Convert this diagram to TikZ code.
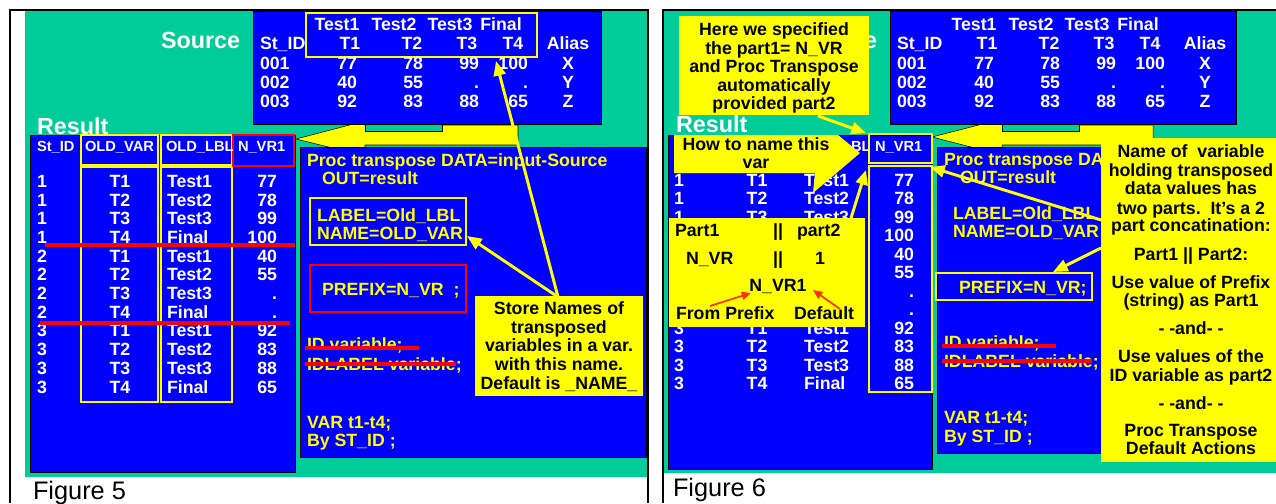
\documentclass[tikz,border=0pt]{standalone}
\usepackage{fontspec}
\setmainfont{Liberation Sans}
\usetikzlibrary{arrows.meta}
\definecolor{tl}{RGB}{0,204,153}
\definecolor{bl}{RGB}{0,0,255}
\definecolor{yl}{RGB}{255,255,0}
\definecolor{rd}{RGB}{255,0,0}
\definecolor{ra}{RGB}{255,51,0}
\newcommand\fsn{\fontsize{13.3}{15}\selectfont\bfseries}
\newcommand\fsh{\fontsize{11}{13}\selectfont\bfseries}
\newcommand\fsb{\fontsize{17.5}{20}\selectfont\bfseries}
\newcommand\fsf{\fontsize{19}{22}\selectfont}
\newcommand\srcrows[1]{%
  \node[wt] (#1-h1) at (337,24) {Test1};
  \node[wt] (#1-h2) at (394,24) {Test2};
  \node[wt] (#1-h3) at (450,24) {Test3};
  \node[wt] (#1-h4) at (501,24) {Final};
  \node[wt,anchor=west] (#1-sidh) at (260,43) {St\_ID};
  \node[wt] (#1-t1) at (350,43) {T1};
  \node[wt] (#1-t2) at (412,43) {T2};
  \node[wt] (#1-t3) at (467,43) {T3};
  \node[wt] (#1-t4) at (513,43) {T4};
  \node[wt] (#1-alias) at (568,43) {Alias};
  \foreach \sid/\va/\vb/\vc/\vd/\al [count=\i from 0] in {001/77/78/99/100/X,002/40/55/././Y,003/92/83/88/65/Z}{%
    \pgfmathsetmacro\yy{63+19*\i}
    \node[wt,anchor=west] (#1-sid\i) at (260,\yy) {\sid};
    \node[wt,anchor=east] (#1-sa\i) at (357,\yy) {\va};
    \node[wt,anchor=east] (#1-sb\i) at (423,\yy) {\vb};
    \node[wt,anchor=east] (#1-sc\i) at (479,\yy) {\vc};
    \node[wt,anchor=east] (#1-sd\i) at (528,\yy) {\vd};
    \node[wt] (#1-sal\i) at (568,\yy) {\al};
  }}
% #1 prefix, #2 first row y, #3 row step, #4 first hidden row, #5 last hidden row
\newcommand\resrows[5]{%
  \foreach \id/\tv/\lb/\v [count=\i from 0] in {1/T1/Test1/77,1/T2/Test2/78,1/T3/Test3/99,1/T4/Final/100,2/T1/Test1/40,2/T2/Test2/55,2/T3/Test3/.,2/T4/Final/.,3/T1/Test1/92,3/T2/Test2/83,3/T3/Test3/88,3/T4/Final/65}{%
    \pgfmathsetmacro\yy{#2+#3*\i}
    \ifnum\i<#4\relax
      \node[wt,anchor=west] (#1-rid\i) at (37,\yy) {\id};
      \node[wt] (#1-rvar\i) at (120,\yy) {\tv};
      \node[wt,anchor=west] (#1-rlbl\i) at (167,\yy) {\lb};
    \else\ifnum\i>#5\relax
      \node[wt,anchor=west] (#1-rid\i) at (37,\yy) {\id};
      \node[wt] (#1-rvar\i) at (120,\yy) {\tv};
      \node[wt,anchor=west] (#1-rlbl\i) at (167,\yy) {\lb};
    \fi\fi
    \node[wt,anchor=east] (#1-rval\i) at (277,\yy) {\v};
  }}
\begin{document}
\begin{tikzpicture}[x=0.75pt,y=-0.75pt,
  every node/.style={inner sep=0pt,outer sep=0pt},
  wt/.style={text=white,font=\fsn,text height=9.5pt,text depth=0pt},
  wh/.style={text=white,font=\fsh,text height=7.9pt,text depth=0pt},
  yt/.style={text=yl,font=\fsn,text height=9.5pt,text depth=0pt},
  kt/.style={text=black,font=\fsn,text height=9.5pt,text depth=0pt},
  big/.style={text=white,font=\fsb,text height=12.5pt,text depth=0pt},
  figl/.style={text=black,font=\fsf,text height=13.6pt,text depth=0pt},
  bluebox/.style={fill=bl,draw=black,line width=0.6pt},
  tealbox/.style={fill=tl,draw=black,line width=0.6pt},
  ybox/.style={draw=yl,line width=2.2pt},
  rbox/.style={draw=rd,line width=2.2pt},
  strike/.style={draw=rd,line width=2.6pt},
  yarrow/.style={draw=yl,line width=2.2pt,-{Triangle[length=11pt,width=9pt]}},
  rarrow/.style={draw=ra,line width=1.3pt,-{Triangle[length=7pt,width=6pt]}},
  bigarrow/.style={fill=yl,draw=black,line width=0.4pt},
  frame/.style={draw=black,line width=1.5pt}]
\useasboundingbox (0,0) rectangle (1276,503);
\fill[white] (0,0) rectangle (1276,503);

%%%%%%%%%%%%%%%% FIGURE 5
\fill[tl] (25,11) rectangle (647,477);
\draw[frame] (10,503) -- (10,10) -- (648,10) -- (648,503);
\node[big,anchor=west] (a-source) at (161,40) {Source};
\filldraw[bigarrow] (296,139) -- (365,121) -- (365,125) -- (518,125) -- (518,145) -- (365,145) -- (365,156) -- cycle;
\draw[bluebox] (253,11) rectangle (601,124);
\draw[tealbox] (365,124) rectangle (442,131);
\draw[ybox] (306,13) rectangle (537,57);
\srcrows{a}
% result table
\node[big,anchor=west] (a-result) at (37,126) {Result};
\draw[bluebox] (30,135) rectangle (295,472);
\draw[ybox] (81,135) rectangle (158,165);
\draw[ybox] (161,135) rectangle (232,165);
\draw[ybox] (81,167) rectangle (158,402);
\draw[ybox] (161,167) rectangle (232,402);
\draw[rbox] (233,135) rectangle (294,166);
\node[wh,anchor=west] (a-hid) at (37,146) {St\_ID};
\node[wh,anchor=west] (a-hvar) at (85,146) {OLD\_VAR};
\node[wh,anchor=west] (a-hlbl) at (166,146) {OLD\_LBL};
\node[wh,anchor=west] (a-hnvr) at (238,146) {N\_VR1};
\resrows{a}{181}{18.7}{20}{30}
\draw[strike] (45,245) -- (295,245);
\draw[strike] (40,323) -- (290,323);
% code box
\draw[bluebox] (300,147) rectangle (646,457);
\node[yt,anchor=west] (a-c1) at (307,160) {Proc transpose DATA=input-Source};
\node[yt,anchor=west] (a-c2) at (322,178) {OUT=result};
\draw[ybox] (310,198) rectangle (466,245);
\node[yt,anchor=west] (a-c3) at (317,215) {LABEL=Old\_LBL};
\node[yt,anchor=west] (a-c4) at (317,233) {NAME=OLD\_VAR};
\draw[rbox] (310,265) rectangle (466,312);
\node[yt,anchor=west] (a-c5) at (322,289) {PREFIX=N\_VR\ \ ;};
\node[yt,anchor=west] (a-c6) at (307,344) {ID variable;};
\node[yt,anchor=west] (a-c7) at (307,364) {IDLABEL variable;};
\draw[strike] (305,348) -- (419,348);
\draw[strike] (305,364) -- (456,364);
\node[yt,anchor=west] (a-c8) at (307,422) {VAR t1-t4;};
\node[yt,anchor=west] (a-c9) at (307,440) {By ST\_ID ;};
% note
\fill[yl] (475,296) rectangle (643,396);
\node[kt] (a-n1) at (559,308) {Store Names of};
\node[kt] (a-n2) at (559,327) {transposed};
\node[kt] (a-n3) at (559,345) {variables in a var.};
\node[kt] (a-n4) at (559,364) {with this name.};
\node[kt] (a-n5) at (559,383) {Default is \_NAME\_};
\coordinate (a-note) at (558,297);
\coordinate (a-namebox) at (467,236);
\coordinate (a-t4tip) at (496,61);
\draw[yarrow] (a-note) -- (a-namebox);
\draw[yarrow] (a-note) -- (a-t4tip);
\node[figl,anchor=west] (a-fig) at (33,490) {Figure 5};

%%%%%%%%%%%%%%%% FIGURE 6
\begin{scope}[shift={(637,0)}]
\fill[tl] (27,11) rectangle (640,473);
\draw[frame] (26,503) -- (26,10) -- (640,10);
\node[big,anchor=west] (b-source) at (161,40) {Source};
\filldraw[bigarrow] (295,137) -- (365,119) -- (365,125) -- (516,125) -- (516,145) -- (365,145) -- (365,155) -- cycle;
\draw[bluebox] (253,11) rectangle (599,124);
\draw[tealbox] (365,124) rectangle (442,131);
\srcrows{b}
% result
\node[big,anchor=west] (b-result) at (39,124) {Result};
\draw[bluebox] (31,135) rectangle (295,469);
\node[wh,anchor=west] (b-hlbl) at (166,146) {OLD\_LBL};
\node[wh,anchor=west] (b-hnvr) at (238,146) {N\_VR1};
\resrows{b}{180}{18.5}{3}{7}
\draw[ybox] (232,134) rectangle (295,163);
\draw[ybox] (232,166) rectangle (295,392);
% code
\draw[bluebox] (300,147) rectangle (600,453);
\node[yt,anchor=west] (b-c1) at (307,159) {Proc transpose DA};
\node[yt,anchor=west] (b-c2) at (323,177) {OUT=result};
\node[yt,anchor=west] (b-c3) at (316,213) {LABEL=Old\_LBL};
\node[yt,anchor=west] (b-c4) at (316,231) {NAME=OLD\_VAR};
\draw[ybox] (299,273) rectangle (455,300);
\node[yt,anchor=west] (b-c5) at (322,287) {PREFIX=N\_VR;};
\node[yt,anchor=west] (b-c6) at (307,342) {ID variable;};
\node[yt,anchor=west] (b-c7) at (307,361) {IDLABEL variable;};
\draw[strike] (305,346) -- (419,346);
\draw[strike] (305,361) -- (455,361);
\node[yt,anchor=west] (b-c8) at (307,417) {VAR t1-t4;};
\node[yt,anchor=west] (b-c9) at (307,436) {By ST\_ID ;};
% big note
\fill[yl] (464,138) rectangle (645,462);
\node[kt] (b-n1) at (554,151) {Name of\ \ variable};
\node[kt] (b-n2) at (554,170) {holding transposed};
\node[kt] (b-n3) at (554,188) {data values has};
\node[kt] (b-n4) at (554,208) {two parts.\ \ It’s a 2};
\node[kt] (b-n5) at (554,225) {part concatination:};
\node[kt] (b-n6) at (554,254) {Part1 || Part2:};
\node[kt] (b-n7) at (554,282) {Use value of Prefix};
\node[kt] (b-n8) at (554,300) {(string) as Part1};
\node[kt] (b-n9) at (554,328) {- -and- -};
\node[kt] (b-n10) at (554,356) {Use values of the};
\node[kt] (b-n11) at (554,375) {ID variable as part2};
\node[kt] (b-n12) at (554,403) {- -and- -};
\node[kt] (b-n13) at (554,430) {Proc Transpose};
\node[kt] (b-n14) at (554,448) {Default Actions};
% callout: here we specified
\fill[yl] (42,16) rectangle (232,115);
\node[kt] (b-h1) at (137,29) {Here we specified};
\node[kt] (b-h2) at (137,48) {the part1= N\_VR};
\node[kt] (b-h3) at (137,66) {and Proc Transpose};
\node[kt] (b-h4) at (137,85) {automatically};
\node[kt] (b-h5) at (137,103) {provided part2};
% callout: how to name
\fill[yl] (37,135) -- (201,135) -- (223,153) -- (176,193) -- (178,173) -- (37,173) -- cycle;
\node[kt] (b-w1) at (119,144) {How to name this};
\node[kt] (b-w2) at (119,162) {var};
% part1 box
\fill[yl] (32,218) rectangle (228,327);
\node[kt,anchor=west] (b-p1) at (38,230) {Part1};
\node[kt] (b-p2) at (141,230) {||};
\node[kt,anchor=west] (b-p3) at (160,230) {part2};
\node[kt,anchor=west] (b-p4) at (49,258) {N\_VR};
\node[kt] (b-p5) at (141,258) {||};
\node[kt] (b-p6) at (183,258) {1};
\node[kt] (b-p7) at (141,285) {N\_VR1};
\node[kt,anchor=west] (b-p8) at (39,313) {From Prefix};
\node[kt,anchor=west] (b-p9) at (157,313) {Default};
\coordinate (b-ra1s) at (73,306);
\coordinate (b-ra1e) at (114,293);
\coordinate (b-ra2s) at (203,309);
\coordinate (b-ra2e) at (176,290);
\draw[rarrow] (b-ra1s) -- (b-ra1e);
\draw[rarrow] (b-ra2s) -- (b-ra2e);
% yellow arrows
\coordinate (b-p1top) at (214,218);
\coordinate (b-nvrl) at (229,170);
\draw[yarrow] (b-p1top) -- (b-nvrl);
\coordinate (b-hbot) at (181,116);
\coordinate (b-nvrh) at (229,133);
\draw[yarrow] (b-hbot) -- (b-nvrh);
\coordinate (b-nt1) at (464,220);
\coordinate (b-nvrr) at (293,167);
\draw[yarrow] (b-nt1) -- (b-nvrr);
\coordinate (b-nt2) at (464,248);
\coordinate (b-pfx) at (416,272);
\draw[yarrow] (b-nt2) -- (b-pfx);
\node[figl,anchor=west] (b-fig) at (36,487) {Figure 6};
\end{scope}
\end{tikzpicture}
\end{document}
